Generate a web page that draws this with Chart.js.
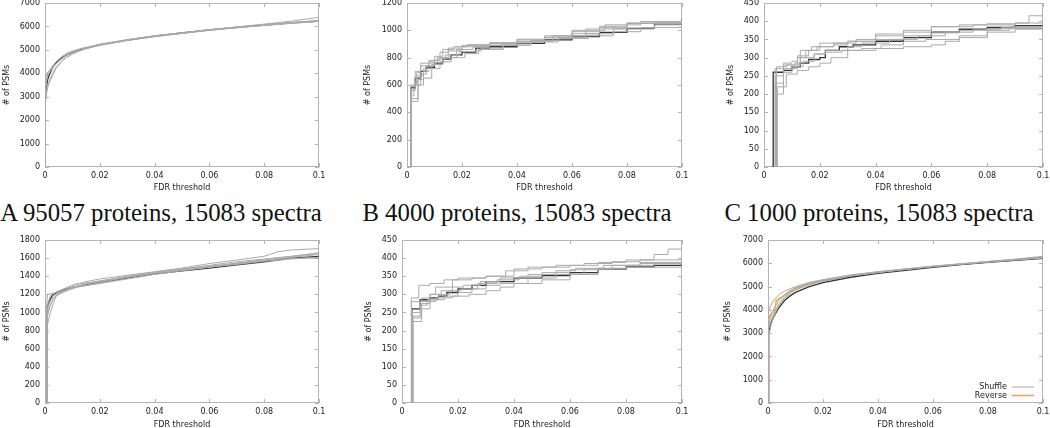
<!DOCTYPE html>
<html>
<head>
<meta charset="utf-8">
<script src="https://cdn.jsdelivr.net/npm/chart.js@4.4.0/dist/chart.umd.min.js"></script>
<style>
  body { margin: 0; background: #fff; width: 1050px; height: 428px; overflow: hidden; position: relative; }
  canvas { position: absolute; }
  .caption {
    position: absolute; top: 201px; line-height: 1;
    font-family: "Liberation Serif", serif; font-size: 24.8px; color: #111;
    white-space: nowrap; transform: translateX(-50%);
  }
</style>
</head>
<body>
<canvas id="pA"></canvas>
<canvas id="pB"></canvas>
<canvas id="pC"></canvas>
<canvas id="pD"></canvas>
<canvas id="pE"></canvas>
<canvas id="pF"></canvas>
<div class="caption" style="left:161px">A 95057 proteins, 15083 spectra</div>
<div class="caption" style="left:517px">B 4000 proteins, 15083 spectra</div>
<div class="caption" style="left:879px">C 1000 proteins, 15083 spectra</div>
<script>
// x ticks shared by every panel
const fdrTicks = [0, 0.02, 0.04, 0.06, 0.08, 0.1];

// --- top left (0..7000) ---
const runsA_dark = [[0,0],[0.0001,2800],[0.0005,3400],[0.001,3750],[0.002,4050],[0.003,4300],[0.004,4450],[0.006,4650],[0.008,4800],[0.01,4900],[0.013,5020],[0.016,5110],[0.02,5220],[0.03,5420],[0.04,5590],[0.05,5720],[0.06,5850],[0.07,5960],[0.08,6060],[0.09,6150],[0.1,6230]];
const runsA_gray = [
  [[0,0],[0.0001,3300],[0.0005,3900],[0.001,4050],[0.002,4150],[0.003,4300],[0.004,4500],[0.006,4700],[0.008,4850],[0.01,4950],[0.013,5050],[0.016,5120],[0.02,5230],[0.03,5430],[0.04,5600],[0.05,5730],[0.06,5860],[0.07,5980],[0.08,6100],[0.09,6230],[0.1,6390]],
  [[0,0],[0.0001,2900],[0.0005,3200],[0.001,3500],[0.002,3800],[0.003,4050],[0.004,4250],[0.006,4500],[0.008,4700],[0.01,4850],[0.013,4980],[0.016,5080],[0.02,5200],[0.03,5400],[0.04,5570],[0.05,5710],[0.06,5840],[0.07,5950],[0.08,6040],[0.09,6130],[0.1,6210]],
  [[0,0],[0.0001,3000],[0.0005,3600],[0.001,3900],[0.002,4100],[0.003,4250],[0.004,4400],[0.006,4600],[0.008,4780],[0.01,4900],[0.013,5030],[0.016,5100],[0.02,5210],[0.03,5410],[0.04,5580],[0.05,5720],[0.06,5850],[0.07,5970],[0.08,6070],[0.09,6160],[0.1,6250]],
  [[0,0],[0.0001,2700],[0.0005,3100],[0.001,3400],[0.002,3700],[0.003,3950],[0.004,4200],[0.006,4500],[0.008,4680],[0.01,4820],[0.013,4970],[0.016,5080],[0.02,5190],[0.03,5400],[0.04,5560],[0.05,5700],[0.06,5830],[0.07,5940],[0.08,6050],[0.09,6140],[0.1,6220]],
  [[0,0],[0.0001,3100],[0.0005,3700],[0.001,4000],[0.002,4200],[0.003,4350],[0.004,4480],[0.006,4680],[0.008,4820],[0.01,4920],[0.013,5050],[0.016,5130],[0.02,5240],[0.03,5440],[0.04,5600],[0.05,5730],[0.06,5860],[0.07,5970],[0.08,6080],[0.09,6170],[0.1,6260]]
];

// --- top middle (0..1200) ---
const runsB_dark = [[0.0014,0],[0.0014,580],[0.003,650],[0.005,700],[0.007,730],[0.01,760],[0.013,790],[0.016,820],[0.02,840],[0.025,870],[0.03,880],[0.04,905],[0.05,930],[0.06,955],[0.07,985],[0.08,1015],[0.09,1045],[0.1,1085]];
const runsB_gray = [
  [[0.0014,0],[0.0014,480],[0.004,600],[0.005,680],[0.007,740],[0.01,780],[0.012,840],[0.015,870],[0.02,890],[0.03,900],[0.04,920],[0.053,960],[0.065,1010],[0.08,1050],[0.09,1060],[0.1,1070]],
  [[0.0014,0],[0.0014,590],[0.003,700],[0.005,760],[0.008,780],[0.011,800],[0.015,850],[0.02,880],[0.03,905],[0.04,930],[0.05,945],[0.06,975],[0.07,1020],[0.08,1050],[0.1,1060]],
  [[0.0014,0],[0.0014,520],[0.0025,600],[0.006,650],[0.009,720],[0.012,770],[0.016,800],[0.021,830],[0.026,860],[0.035,890],[0.045,915],[0.055,940],[0.066,960],[0.075,990],[0.085,1020],[0.1,1040]],
  [[0.0014,0],[0.0014,560],[0.003,620],[0.004,670],[0.006,720],[0.009,750],[0.013,800],[0.018,860],[0.024,880],[0.03,890],[0.04,915],[0.05,950],[0.06,990],[0.07,1030],[0.08,1055],[0.1,1075]],
  [[0.0014,0],[0.0014,500],[0.004,640],[0.006,700],[0.008,760],[0.011,790],[0.014,820],[0.019,845],[0.025,850],[0.027,870],[0.035,900],[0.045,925],[0.055,950],[0.065,975],[0.075,1010],[0.09,1040],[0.1,1050]],
  [[0.0014,0],[0.0014,600],[0.0035,690],[0.005,740],[0.008,770],[0.01,810],[0.013,860],[0.017,880],[0.022,895],[0.03,910],[0.04,935],[0.05,960],[0.06,1000],[0.072,1040],[0.085,1065],[0.1,1090]]
];

// --- top right (0..450) ---
const runsC_dark = [[0.0033,0],[0.0033,260],[0.007,265],[0.01,275],[0.013,285],[0.016,295],[0.02,300],[0.022,320],[0.027,330],[0.032,335],[0.04,345],[0.05,355],[0.06,370],[0.07,378],[0.08,383],[0.09,388],[0.1,392]];
const runsC_gray = [
  [[0.0045,0],[0.0045,200],[0.007,260],[0.01,270],[0.012,300],[0.015,320],[0.02,330],[0.025,335],[0.03,340],[0.033,350],[0.04,360],[0.05,370],[0.06,385],[0.07,390],[0.08,393],[0.09,395],[0.095,415],[0.1,435]],
  [[0.004,0],[0.004,230],[0.007,280],[0.011,285],[0.013,320],[0.017,330],[0.02,340],[0.03,345],[0.04,365],[0.05,375],[0.06,385],[0.075,390],[0.09,395],[0.1,400]],
  [[0.0042,0],[0.0042,250],[0.007,270],[0.01,275],[0.014,290],[0.018,310],[0.022,320],[0.03,330],[0.035,340],[0.045,350],[0.055,360],[0.065,370],[0.075,378],[0.085,383],[0.1,388]],
  [[0.0048,0],[0.0048,220],[0.008,255],[0.012,265],[0.016,275],[0.02,285],[0.024,300],[0.03,320],[0.04,325],[0.05,330],[0.06,335],[0.065,345],[0.07,355],[0.08,370],[0.09,378],[0.1,380]],
  [[0.004,0],[0.004,270],[0.007,285],[0.01,290],[0.012,305],[0.016,320],[0.019,330],[0.025,340],[0.03,345],[0.04,350],[0.05,360],[0.06,368],[0.07,375],[0.08,380],[0.1,385]],
  [[0.0045,0],[0.0045,275],[0.008,280],[0.013,300],[0.018,310],[0.022,315],[0.028,320],[0.035,325],[0.042,335],[0.05,345],[0.058,350],[0.07,360],[0.08,375],[0.088,385],[0.1,395]]
];

// --- bottom left (0..1800) ---
const runsD_dark = [[0.0007,0],[0.0007,1050],[0.002,1150],[0.003,1200],[0.005,1230],[0.008,1260],[0.012,1290],[0.016,1310],[0.02,1330],[0.03,1380],[0.04,1425],[0.05,1460],[0.06,1490],[0.07,1525],[0.08,1560],[0.09,1600],[0.1,1620]];
const runsD_gray = [
  [[0.0007,0],[0.0007,800],[0.001,880],[0.002,1000],[0.003,1100],[0.004,1180],[0.006,1220],[0.01,1270],[0.015,1320],[0.02,1350],[0.03,1390],[0.04,1440],[0.05,1480],[0.06,1520],[0.07,1560],[0.08,1590],[0.09,1620],[0.1,1650]],
  [[0.0006,0],[0.0006,1100],[0.001,1200],[0.003,1210],[0.006,1250],[0.01,1300],[0.015,1340],[0.02,1370],[0.03,1410],[0.04,1450],[0.05,1490],[0.06,1540],[0.07,1580],[0.08,1620],[0.085,1670],[0.09,1690],[0.1,1705]],
  [[0.0008,0],[0.0008,960],[0.002,1080],[0.003,1150],[0.005,1200],[0.008,1240],[0.012,1280],[0.02,1320],[0.03,1370],[0.04,1420],[0.05,1460],[0.06,1500],[0.07,1540],[0.08,1570],[0.09,1600],[0.1,1600]],
  [[0.0007,0],[0.0007,1000],[0.0015,1100],[0.003,1180],[0.005,1220],[0.009,1270],[0.013,1300],[0.02,1345],[0.03,1395],[0.04,1435],[0.05,1470],[0.06,1505],[0.07,1545],[0.08,1580],[0.09,1620],[0.1,1660]],
  [[0.0008,0],[0.0008,1080],[0.002,1190],[0.004,1220],[0.007,1260],[0.011,1310],[0.016,1330],[0.02,1340],[0.03,1400],[0.04,1445],[0.05,1480],[0.06,1510],[0.07,1540],[0.08,1580],[0.09,1610],[0.1,1640]],
  [[0.0006,0],[0.0006,900],[0.0015,1050],[0.0025,1120],[0.004,1190],[0.007,1240],[0.01,1280],[0.015,1300],[0.02,1330],[0.03,1385],[0.04,1430],[0.05,1470],[0.06,1500],[0.07,1530],[0.08,1565],[0.09,1590],[0.1,1610]]
];

// --- bottom middle (0..450) ---
const runsE_dark = [[0.0035,0],[0.0035,260],[0.0065,285],[0.01,290],[0.013,295],[0.016,305],[0.02,315],[0.025,325],[0.03,335],[0.04,345],[0.05,352],[0.06,360],[0.07,370],[0.08,376],[0.09,380],[0.1,385]];
const runsE_gray = [
  [[0.0033,0],[0.0033,290],[0.006,325],[0.01,330],[0.015,340],[0.02,345],[0.03,350],[0.04,370],[0.05,375],[0.06,380],[0.07,388],[0.08,395],[0.09,410],[0.095,425],[0.1,425]],
  [[0.0038,0],[0.0038,225],[0.007,260],[0.01,300],[0.012,320],[0.018,340],[0.025,345],[0.03,350],[0.037,365],[0.045,375],[0.055,380],[0.065,385],[0.075,390],[0.085,395],[0.1,400]],
  [[0.004,0],[0.004,240],[0.007,275],[0.01,285],[0.015,295],[0.02,305],[0.025,315],[0.03,325],[0.035,330],[0.045,345],[0.055,355],[0.065,370],[0.075,380],[0.085,385],[0.1,392]],
  [[0.0036,0],[0.0036,250],[0.0065,280],[0.012,290],[0.018,295],[0.024,300],[0.03,310],[0.035,320],[0.04,330],[0.05,340],[0.06,355],[0.07,370],[0.08,380],[0.09,385],[0.1,388]],
  [[0.0034,0],[0.0034,280],[0.007,290],[0.01,300],[0.014,310],[0.018,320],[0.022,325],[0.028,335],[0.035,345],[0.045,355],[0.055,365],[0.062,372],[0.072,380],[0.085,388],[0.1,395]],
  [[0.0037,0],[0.0037,235],[0.0065,270],[0.009,285],[0.013,300],[0.017,310],[0.021,315],[0.027,330],[0.034,340],[0.042,350],[0.05,360],[0.06,368],[0.07,372],[0.08,375],[0.1,382]]
];

// --- bottom right (0..7000), shuffle vs reverse ---
const runsF_dark = [[0,0],[0.0002,3000],[0.001,3400],[0.002,3700],[0.004,4100],[0.006,4400],[0.008,4600],[0.01,4750],[0.015,5000],[0.02,5170],[0.03,5400],[0.04,5570],[0.05,5700],[0.06,5830],[0.07,5940],[0.08,6040],[0.09,6130],[0.1,6210]];
const runsF_gray = [
  [[0,0],[0.0002,3900],[0.001,4200],[0.002,4400],[0.004,4650],[0.006,4800],[0.008,4900],[0.01,5000],[0.015,5180],[0.02,5300],[0.03,5500],[0.04,5640],[0.05,5760],[0.06,5880],[0.07,5980],[0.08,6080],[0.09,6180],[0.1,6300]],
  [[0,0],[0.0002,2800],[0.001,3300],[0.002,3700],[0.004,4200],[0.006,4500],[0.008,4700],[0.01,4850],[0.015,5080],[0.02,5230],[0.03,5450],[0.04,5600],[0.05,5730],[0.06,5850],[0.07,5960],[0.08,6060],[0.09,6150],[0.1,6240]],
  [[0,0],[0.0002,3300],[0.001,3700],[0.002,4000],[0.004,4400],[0.006,4650],[0.008,4820],[0.01,4950],[0.015,5150],[0.02,5280],[0.03,5480],[0.04,5620],[0.05,5750],[0.06,5870],[0.07,5970],[0.08,6070],[0.09,6170],[0.1,6270]],
  [[0,0],[0.0002,3200],[0.001,3500],[0.002,3800],[0.004,4250],[0.006,4550],[0.008,4750],[0.01,4880],[0.015,5100],[0.02,5250],[0.03,5460],[0.04,5610],[0.05,5740],[0.06,5860],[0.07,5960],[0.08,6050],[0.09,6140],[0.1,6230]]
];
const runsF_reverse = [[0,0],[0.0002,3600],[0.001,3800],[0.0025,4000],[0.003,4400],[0.005,4550],[0.008,4800],[0.01,4920],[0.015,5120],[0.02,5260],[0.03,5460],[0.04,5620],[0.05,5740],[0.06,5860],[0.07,5960],[0.08,6060],[0.09,6150],[0.1,6240]];

const GRAY = '#aaaaaa';
const DARK = '#333333';
const ORANGE = '#f2a93b';
const TICK_FONT = { family: 'DejaVu Sans', size: 8 };

// gnuplot-like frame with inward ticks on all four sides
const framePlugin = {
  id: 'gnuFrame',
  beforeDatasetsDraw(chart) {
    const { ctx, chartArea: a, scales: { x, y } } = chart;
    ctx.save();
    ctx.strokeStyle = '#b4b4b4';
    ctx.lineWidth = 1;
    ctx.strokeRect(a.left + 0.5, a.top + 0.5, a.width - 1, a.height - 1);
    ctx.beginPath();
    x.ticks.forEach(t => {
      const px = Math.round(x.getPixelForValue(t.value)) + 0.5;
      ctx.moveTo(px, a.bottom); ctx.lineTo(px, a.bottom - 4);
      ctx.moveTo(px, a.top); ctx.lineTo(px, a.top + 4);
    });
    y.ticks.forEach(t => {
      const py = Math.round(y.getPixelForValue(t.value)) + 0.5;
      ctx.moveTo(a.left, py); ctx.lineTo(a.left + 4, py);
      ctx.moveTo(a.right, py); ctx.lineTo(a.right - 4, py);
    });
    ctx.stroke();
    ctx.restore();
  }
};

// small key in the lower right corner of the plot
const keyPlugin = {
  id: 'cornerKey',
  afterDatasetsDraw(chart, args, opts) {
    if (!opts.labels) return;
    const { ctx, chartArea: a } = chart;
    ctx.save();
    ctx.font = '8px "DejaVu Sans"';
    ctx.textAlign = 'right';
    ctx.textBaseline = 'middle';
    opts.labels.forEach((lbl, i) => {
      const ds = chart.data.datasets.find(d => d.label === lbl);
      const yy = a.bottom - 16 + i * 8.5;
      ctx.fillStyle = '#222';
      ctx.fillText(lbl, a.right - 36, yy);
      ctx.strokeStyle = ds.borderColor;
      ctx.lineWidth = ds.borderWidth;
      ctx.beginPath();
      ctx.moveTo(a.right - 31, yy); ctx.lineTo(a.right - 9, yy);
      ctx.stroke();
    });
    ctx.restore();
  }
};

const panels = [
  { id: 'pA', left: 0,   top: -5,  plotLeft: 45,  plotRight: 319,  plotTop: 3,   plotBottom: 167, xh: 28, yMax: 7000, yStep: 1000, gray: runsA_gray, dark: runsA_dark, stepped: false },
  { id: 'pB', left: 361, top: -5,  plotLeft: 407, plotRight: 682,  plotTop: 3,   plotBottom: 167, xh: 28, yMax: 1200, yStep: 200,  gray: runsB_gray, dark: runsB_dark, stepped: true },
  { id: 'pC', left: 724, top: -5,  plotLeft: 764, plotRight: 1043, plotTop: 3,   plotBottom: 167, xh: 28, yMax: 450,  yStep: 50,   gray: runsC_gray, dark: runsC_dark, stepped: true },
  { id: 'pD', left: 0,   top: 232, plotLeft: 45,  plotRight: 319,  plotTop: 240, plotBottom: 403, xh: 29, yMax: 1800, yStep: 200,  gray: runsD_gray, dark: runsD_dark, stepped: false },
  { id: 'pE', left: 362, top: 232, plotLeft: 402, plotRight: 682,  plotTop: 240, plotBottom: 403, xh: 29, yMax: 450,  yStep: 50,   gray: runsE_gray, dark: runsE_dark, stepped: true },
  { id: 'pF', left: 721, top: 232, plotLeft: 768, plotRight: 1043, plotTop: 240, plotBottom: 403, xh: 29, yMax: 7000, yStep: 1000, gray: runsF_gray, dark: runsF_dark, stepped: false, reverse: runsF_reverse }
];

const toXY = run => run.map(p => ({ x: p[0], y: p[1] }));

panels.forEach(p => {
  const canvas = document.getElementById(p.id);
  const width = Math.min(p.plotRight + 8, 1050) - p.left;
  const height = p.plotBottom + p.xh - p.top;
  canvas.width = width;
  canvas.height = height;
  canvas.style.left = p.left + 'px';
  canvas.style.top = p.top + 'px';
  canvas.style.width = width + 'px';
  canvas.style.height = height + 'px';

  const datasets = p.gray.map((run, i) => ({
    label: p.reverse && i === 0 ? 'Shuffle' : 'run ' + (i + 1),
    data: toXY(run),
    borderColor: GRAY,
    borderWidth: 1,
    pointRadius: 0,
    stepped: p.stepped
  }));
  datasets.push({
    label: 'dark run',
    data: toXY(p.dark),
    borderColor: DARK,
    borderWidth: 1.3,
    pointRadius: 0,
    stepped: p.stepped
  });
  if (p.reverse) {
    datasets.push({
      label: 'Reverse',
      data: toXY(p.reverse),
      borderColor: ORANGE,
      borderWidth: 1.6,
      pointRadius: 0
    });
  }

  new Chart(canvas, {
    type: 'line',
    data: { datasets },
    options: {
      responsive: false,
      animation: false,
      devicePixelRatio: 1,
      layout: { padding: { top: p.plotTop - p.top, right: width - (p.plotRight - p.left), left: 0, bottom: 0 } },
      scales: {
        x: {
          type: 'linear',
          min: 0, max: 0.1,
          grid: { display: false, drawTicks: false },
          border: { display: false },
          afterBuildTicks: s => { s.ticks = fdrTicks.map(v => ({ value: v })); },
          afterFit: s => { s.height = p.xh; s.paddingLeft = 0; s.paddingRight = 0; },
          ticks: { font: TICK_FONT, color: '#222', padding: 4, maxRotation: 0, callback: v => String(+v.toFixed(2)) },
          title: { display: true, text: 'FDR threshold', font: TICK_FONT, color: '#222', padding: { top: 0, bottom: 2 } }
        },
        y: {
          min: 0, max: p.yMax,
          grid: { display: false, drawTicks: false },
          border: { display: false },
          afterFit: s => { s.width = p.plotLeft - p.left; s.paddingTop = 0; s.paddingBottom = 0; },
          ticks: { stepSize: p.yStep, font: TICK_FONT, color: '#222', padding: 5, callback: v => String(v) },
          title: { display: true, text: '# of PSMs', font: TICK_FONT, color: '#222', padding: { top: 2, bottom: 0 } }
        }
      },
      plugins: {
        legend: { display: false },
        tooltip: { enabled: false },
        cornerKey: { labels: p.reverse ? ['Shuffle', 'Reverse'] : null }
      }
    },
    plugins: [framePlugin, keyPlugin]
  });
});
</script>
</body>
</html>
